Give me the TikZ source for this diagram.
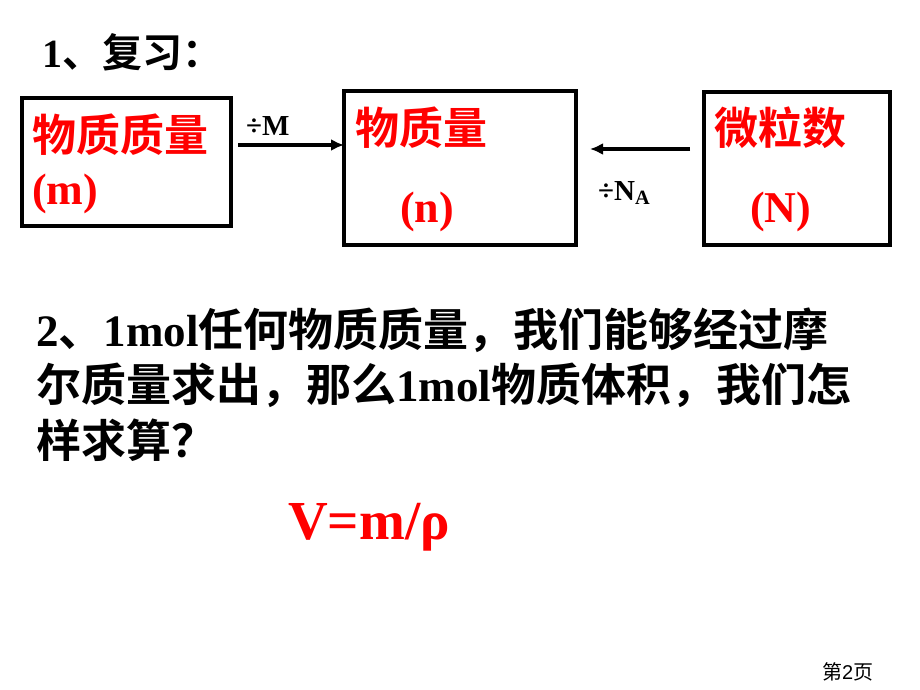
\documentclass[tikz,border=0pt]{standalone}
\usepackage{fontspec}
\usetikzlibrary{arrows.meta}
\setmainfont{Liberation Serif}
\newfontfamily\cjk{Noto Sans CJK SC}[BoldFont={* Bold}]
\newfontfamily\smf{Liberation Sans}
\definecolor{myred}{RGB}{255,0,0}
\newcommand{\C}[1]{{\cjk\bfseries #1}}
\begin{document}
\begin{tikzpicture}[x=1pt,y=-1pt,
  box/.style={draw=black,line width=3.5pt},
  arr/.style={-{Latex[length=13pt,width=12pt]},line width=3.5pt},
  big/.style={font=\fontsize{44}{48}\selectfont\bfseries, inner sep=0pt, anchor=west}]
\useasboundingbox (0,0) rectangle (920,690);
\node[big,font=\fontsize{40}{44}\selectfont\bfseries] (t1) at (42,52) {1\C{、复习：}};
\draw[box] (22,98) rectangle (231,226);
\draw[box] (344,91) rectangle (576,245);
\draw[box] (704,92) rectangle (890,245);
\node[big,text=myred] (a1) at (32,135) {\C{物质质量}};
\node[big,text=myred] (a2) at (32,194) {(m)};
\node[big,text=myred] (b1) at (355,128) {\C{物质量}};
\node[big,text=myred] (b2) at (400,212) {(n)};
\node[big,text=myred] (c1) at (714,128) {\C{微粒数}};
\node[big,text=myred] (c2) at (750,212) {(N)};
\coordinate (p1) at (238,145); \coordinate (p2) at (344,145);
\draw[arr] (p1) -- (p2);
\node[font=\fontsize{29}{30}\selectfont\bfseries,anchor=west,inner sep=0pt] (lm) at (246,126) {÷M};
\coordinate (q1) at (690,149); \coordinate (q2) at (590,149);
\draw[arr] (q1) -- (q2);
\node[font=\fontsize{29}{30}\selectfont\bfseries,anchor=west,inner sep=0pt] (ln) at (598,193) {÷N\textsubscript{A}};
\node[big,font=\fontsize{45}{48}\selectfont\bfseries] (p1t) at (36,330) {2\C{、}1mol\C{任何物质质量，我们能够经过摩}};
\node[big,font=\fontsize{45}{48}\selectfont\bfseries] (p2t) at (36,385) {\C{尔质量求出，那么}1mol\C{物质体积，我们怎}};
\node[big,font=\fontsize{45}{48}\selectfont\bfseries] (p3t) at (36,440) {\C{样求算？}};
\node[font=\fontsize{55}{58}\selectfont\bfseries,text=myred,anchor=west,inner sep=0pt] (v) at (288,527) {V=m/ρ};
\node[font=\fontsize{20}{22}\selectfont,anchor=west,inner sep=0pt] (pg) at (822,672) {{\cjk 第}{\smf 2}{\cjk 页}};
\end{tikzpicture}
\end{document}
